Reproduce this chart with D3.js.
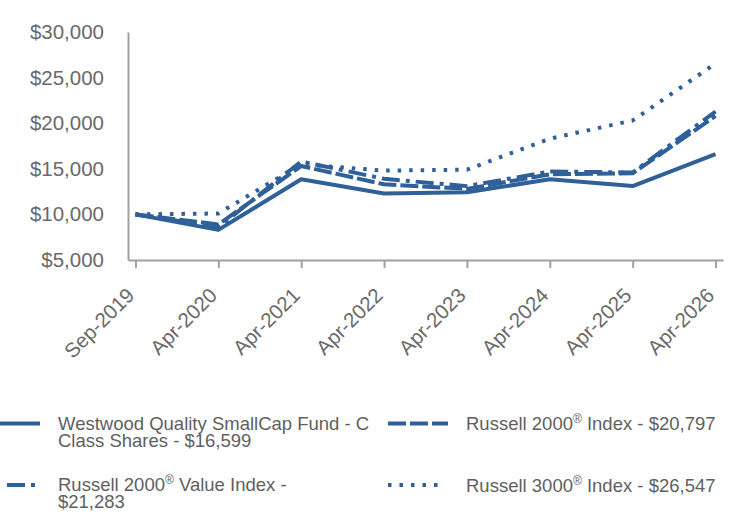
<!DOCTYPE html>
<html><head><meta charset="utf-8">
<script src="https://cdn.jsdelivr.net/npm/d3@7"></script>
<style>
body{margin:0;background:#fff;}
svg{display:block;font-family:"Liberation Sans",Arial,sans-serif;}
</style></head>
<body>
<svg id="chart" width="744" height="516"></svg>
<script>
const categories = ["Sep-2019","Apr-2020","Apr-2021","Apr-2022","Apr-2023","Apr-2024","Apr-2025","Apr-2026"];
const fundValues = [10000, 8300, 13850, 12300, 12420, 13850, 13110, 16599];
const r2000Values = [10000, 8900, 15300, 13300, 12800, 14400, 14500, 20797];
const r2000vValues = [10000, 8600, 15800, 13900, 13100, 14700, 14600, 21283];
const r3000Values = [10000, 10100, 15500, 14800, 14900, 18300, 20300, 26547];
const yTicks = [5000, 10000, 15000, 20000, 25000, 30000];

const series = [
  {name:"Westwood Quality SmallCap Fund - C", name2:"Class Shares - $16,599", values:fundValues, dash:null},
  {name:"Russell 2000", sup:"®", rest:" Index - $20,797", values:r2000Values, dash:"18,4"},
  {name:"Russell 2000", sup:"®", rest:" Value Index -", name2:"$21,283", values:r2000vValues, dash:"18,6,4,6"},
  {name:"Russell 3000", sup:"®", rest:" Index - $26,547", values:r3000Values, dash:"3.5,8"}
];

const color = "#30609a";
const tickColor = "#6a6a6a";
const axisColor = "#a0a0a0";
const svg = d3.select("#chart");

const x = d3.scalePoint().domain(categories).range([128, 723]).padding(0.09);
const y = d3.scaleLinear().domain([5000, 30000]).range([260, 32]);

// y axis
const ya = svg.append("g").attr("transform","translate(128,0)")
  .call(d3.axisLeft(y).tickValues(yTicks).tickSize(0).tickSizeOuter(0).tickPadding(24)
    .tickFormat(d => "$" + d3.format(",")(d)));
ya.select(".domain").attr("stroke", axisColor).attr("stroke-width", 2);
ya.selectAll("text").attr("font-size", 20.5).attr("fill", tickColor)
  .attr("font-family","Liberation Sans, Arial, sans-serif");

// x axis
const xa = svg.append("g").attr("transform","translate(0,260)")
  .call(d3.axisBottom(x).tickSize(8).tickSizeOuter(0).tickPadding(4));
xa.select(".domain").attr("stroke", axisColor).attr("stroke-width", 2);
xa.selectAll(".tick line").attr("stroke", axisColor).attr("stroke-width", 2);
xa.selectAll("text").attr("font-size", 20.5).attr("fill", tickColor)
  .attr("font-family","Liberation Sans, Arial, sans-serif")
  .attr("text-anchor","end").attr("dy","0.35em")
  .attr("transform","translate(-14,23) rotate(-45)");

// lines
const line = d3.line().x((d,i) => x(categories[i])).y(d => y(d));
const order = [3, 1, 2, 0];
order.forEach(k => {
  const s = series[k];
  svg.append("path").datum(s.values)
    .attr("d", line).attr("fill","none").attr("stroke", color)
    .attr("stroke-width", 4).attr("stroke-linejoin","round")
    .attr("stroke-dasharray", s.dash);
});

// legend
const legendPos = [
  {lx0:0, lx1:40, ly:423.5, tx:58, ty:430},
  {lx0:388, lx1:448, ly:423.5, tx:466, ty:430},
  {lx0:7, lx1:40, ly:485, tx:58, ty:491},
  {lx0:388, lx1:440, ly:485, tx:466, ty:491.5}
];
series.forEach((s, i) => {
  const p = legendPos[i];
  svg.append("line").attr("x1", p.lx0).attr("x2", p.lx1).attr("y1", p.ly).attr("y2", p.ly)
    .attr("stroke", color).attr("stroke-width", 4).attr("stroke-dasharray", s.dash);
  const t = svg.append("text").attr("x", p.tx).attr("y", p.ty)
    .attr("font-size", 18.5).attr("fill", "#5f5f5f");
  t.append("tspan").text(s.name);
  if (s.sup) {
    t.append("tspan").attr("font-size", 12).attr("dy", -7).text(s.sup);
    t.append("tspan").attr("dy", 7).text(s.rest);
  }
  if (s.name2) {
    t.append("tspan").attr("x", p.tx).attr("dy", 17).text(s.name2);
  }
});
</script>
</body></html>
